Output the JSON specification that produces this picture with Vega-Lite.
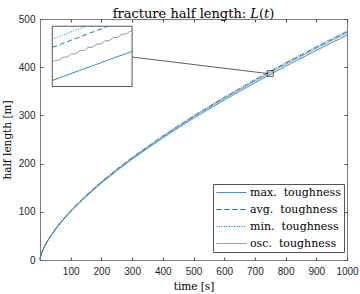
{
  "$schema": "https://vega.github.io/schema/vega-lite/v6.json",
  "width": 307,
  "height": 241,
  "autosize": {"type": "none"},
  "padding": {"left": 40, "top": 19, "right": 13, "bottom": 34},
  "background": "white",
  "title": {"text": "fracture half length: 𝐿(𝑡)", "font": "DejaVu Serif", "fontSize": 13, "fontWeight": "normal", "color": "black", "offset": -7, "anchor": "middle"},
  "config": {
    "view": {"stroke": "#7a7a7a", "strokeWidth": 1},
    "axis": {"domain": false, "grid": false, "tickSize": -3, "tickColor": "#555", "labelOverlap": false, "labelFlush": false, "format": "d", "labelFont": "Liberation Sans", "labelFontSize": 10, "labelColor": "#262626", "titleFont": "DejaVu Serif", "titleFontWeight": "normal", "titleFontSize": 10.5, "titleColor": "black"},
    "legend": {"strokeColor": "#555", "fillColor": "white", "padding": 3, "symbolType": "M-1,0H5", "symbolSize": 100, "symbolStrokeWidth": 1, "labelFont": "DejaVu Serif", "labelFontSize": 11, "labelColor": "black", "labelOffset": 23, "rowPadding": 5}
  },
  "datasets": {
    "main": [
      {"s":"max","t":0,"L":0},{"s":"max","t":1,"L":4.67},{"s":"max","t":2,"L":7.40},{"s":"max","t":5,"L":13.64},{"s":"max","t":10,"L":21.65},{"s":"max","t":20,"L":34.37},{"s":"max","t":30,"L":45.04},{"s":"max","t":50,"L":63.31},{"s":"max","t":75,"L":82.96},{"s":"max","t":100,"L":100.5},{"s":"max","t":150,"L":131.7},{"s":"max","t":200,"L":159.5},{"s":"max","t":250,"L":185.1},{"s":"max","t":300,"L":209.1},{"s":"max","t":400,"L":253.3},{"s":"max","t":500,"L":293.9},{"s":"max","t":600,"L":331.9},{"s":"max","t":700,"L":367.8},{"s":"max","t":750,"L":385.1},{"s":"max","t":800,"L":402.0},{"s":"max","t":900,"L":434.9},{"s":"max","t":1000,"L":466.5},
      {"s":"avg","t":0,"L":0},{"s":"avg","t":1,"L":4.74},{"s":"avg","t":2,"L":7.51},{"s":"avg","t":5,"L":13.85},{"s":"avg","t":10,"L":21.98},{"s":"avg","t":20,"L":34.89},{"s":"avg","t":30,"L":45.72},{"s":"avg","t":50,"L":64.26},{"s":"avg","t":75,"L":84.21},{"s":"avg","t":100,"L":102.0},{"s":"avg","t":150,"L":133.7},{"s":"avg","t":200,"L":161.9},{"s":"avg","t":250,"L":187.9},{"s":"avg","t":300,"L":212.2},{"s":"avg","t":400,"L":257.1},{"s":"avg","t":500,"L":298.3},{"s":"avg","t":600,"L":336.8},{"s":"avg","t":700,"L":373.3},{"s":"avg","t":750,"L":390.9},{"s":"avg","t":800,"L":408.1},{"s":"avg","t":900,"L":441.4},{"s":"avg","t":1000,"L":473.5},
      {"s":"min","t":0,"L":0},{"s":"min","t":1,"L":4.75},{"s":"min","t":2,"L":7.54},{"s":"min","t":5,"L":13.89},{"s":"min","t":10,"L":22.06},{"s":"min","t":20,"L":35.01},{"s":"min","t":30,"L":45.88},{"s":"min","t":50,"L":64.49},{"s":"min","t":75,"L":84.51},{"s":"min","t":100,"L":102.4},{"s":"min","t":150,"L":134.2},{"s":"min","t":200,"L":162.5},{"s":"min","t":250,"L":188.6},{"s":"min","t":300,"L":213.0},{"s":"min","t":400,"L":258.0},{"s":"min","t":500,"L":299.4},{"s":"min","t":600,"L":338.0},{"s":"min","t":700,"L":374.6},{"s":"min","t":750,"L":392.3},{"s":"min","t":800,"L":409.5},{"s":"min","t":900,"L":443.0},{"s":"min","t":1000,"L":475.2},
      {"s":"osc","t":0,"L":0},{"s":"osc","t":1,"L":4.71},{"s":"osc","t":2,"L":7.48},{"s":"osc","t":5,"L":13.78},{"s":"osc","t":10,"L":21.87},{"s":"osc","t":20,"L":34.71},{"s":"osc","t":30,"L":45.49},{"s":"osc","t":50,"L":63.94},{"s":"osc","t":75,"L":83.78},{"s":"osc","t":100,"L":101.5},{"s":"osc","t":150,"L":133.0},{"s":"osc","t":200,"L":161.1},{"s":"osc","t":250,"L":187.0},{"s":"osc","t":300,"L":211.1},{"s":"osc","t":400,"L":255.8},{"s":"osc","t":500,"L":296.8},{"s":"osc","t":600,"L":335.1},{"s":"osc","t":700,"L":371.4},{"s":"osc","t":750,"L":388.9},{"s":"osc","t":800,"L":406.0},{"s":"osc","t":900,"L":439.1},{"s":"osc","t":1000,"L":471.1}
    ],
    "inset": [
      {"s":"max","t":740,"L":382.2},{"s":"max","t":760,"L":388.0},
      {"s":"avg","t":740,"L":388.8},{"s":"avg","t":754,"L":393.0},
      {"s":"min","t":740,"L":390.4},{"s":"min","t":748.4,"L":393.0},
      {"s":"osc","t":740.0,"L":385.80},{"s":"osc","t":740.7,"L":386.20},{"s":"osc","t":741.4,"L":386.20},{"s":"osc","t":742.1,"L":386.45},{"s":"osc","t":742.8,"L":386.85},{"s":"osc","t":743.5,"L":386.85},{"s":"osc","t":744.2,"L":387.10},{"s":"osc","t":744.9,"L":387.50},{"s":"osc","t":745.6,"L":387.50},{"s":"osc","t":746.3,"L":387.75},{"s":"osc","t":747.0,"L":388.15},{"s":"osc","t":747.7,"L":388.15},{"s":"osc","t":748.4,"L":388.40},{"s":"osc","t":749.1,"L":388.80},{"s":"osc","t":749.8,"L":388.80},{"s":"osc","t":750.5,"L":389.05},{"s":"osc","t":751.2,"L":389.45},{"s":"osc","t":751.9,"L":389.45},{"s":"osc","t":752.6,"L":389.70},{"s":"osc","t":753.3,"L":390.10},{"s":"osc","t":754.0,"L":390.10},{"s":"osc","t":754.7,"L":390.35},{"s":"osc","t":755.4,"L":390.75},{"s":"osc","t":756.1,"L":390.75},{"s":"osc","t":756.8,"L":391.00},{"s":"osc","t":757.5,"L":391.40},{"s":"osc","t":758.2,"L":391.40},{"s":"osc","t":758.9,"L":391.65},{"s":"osc","t":759.6,"L":392.05},{"s":"osc","t":760.0,"L":392.05}
    ],
    "box": [{"t1": 740, "t2": 760, "L1": 381, "L2": 393}],
    "conn": [{"t1": 300, "t2": 740, "L1": 421, "L2": 387}]
  },
  "layer": [
    {
      "data": {"name": "main"},
      "mark": {"type": "line", "strokeWidth": 0.9},
      "encoding": {
        "x": {"field": "t", "type": "quantitative", "scale": {"domain": [0, 1000], "nice": false, "zero": false}, "axis": {"values": [100,200,300,400,500,600,700,800,900,1000], "title": "time [s]", "labelPadding": 9, "titlePadding": 5}},
        "y": {"field": "L", "type": "quantitative", "scale": {"domain": [0, 500], "nice": false, "zero": false}, "axis": {"values": [0,100,200,300,400,500], "title": "half length [m]", "labelPadding": 8, "titlePadding": 6}},
        "color": {"field": "s", "type": "nominal", "scale": {"domain": ["max","avg","min","osc"], "range": ["#0072BD","#0072BD","#0072BD","#808080"]}, "legend": {"title": null, "orient": "none", "legendX": 173, "legendY": 165, "labelExpr": "datum.label + '.\u00a0 toughness'"}},
        "strokeDash": {"field": "s", "type": "nominal", "scale": {"domain": ["max","avg","min","osc"], "range": [[1,0],[5,3],[1,1.5],[1,0]]}, "legend": {"title": null, "orient": "none", "legendX": 173, "legendY": 165, "labelExpr": "datum.label + '.\u00a0 toughness'"}}
      }
    },
    {
      "data": {"name": "box"},
      "mark": {"type": "rect", "fillOpacity": 0, "stroke": "#333", "strokeWidth": 0.8},
      "encoding": {
        "x": {"field": "t1", "type": "quantitative", "scale": {"domain": [0, 1000], "nice": false, "zero": false}, "axis": {"orient": "top", "values": [100,200,300,400,500,600,700,800,900,1000], "labels": false, "title": null}},
        "x2": {"field": "t2"},
        "y": {"field": "L1", "type": "quantitative", "scale": {"domain": [0, 500], "nice": false, "zero": false}, "axis": {"orient": "right", "values": [0,100,200,300,400,500], "labels": false, "title": null}},
        "y2": {"field": "L2"}
      }
    },
    {
      "data": {"name": "conn"},
      "mark": {"type": "rule", "stroke": "#333", "strokeWidth": 0.8},
      "encoding": {
        "x": {"field": "t1", "type": "quantitative", "scale": {"domain": [0, 1000], "nice": false, "zero": false}, "axis": null},
        "x2": {"field": "t2"},
        "y": {"field": "L1", "type": "quantitative", "scale": {"domain": [0, 500], "nice": false, "zero": false}, "axis": null},
        "y2": {"field": "L2"}
      }
    },
    {
      "data": {"name": "box"},
      "mark": {"type": "rect", "fill": "white", "stroke": "#555", "strokeWidth": 1},
      "encoding": {
        "x": {"field": "t1", "type": "quantitative", "scale": {"domain": [736.923, 813.846], "nice": false, "zero": false}, "axis": null},
        "x2": {"field": "t2"},
        "y": {"field": "L1", "type": "quantitative", "scale": {"domain": [346.44, 394.44], "nice": false, "zero": false}, "axis": null},
        "y2": {"field": "L2"}
      }
    },
    {
      "data": {"name": "inset"},
      "mark": {"type": "line", "strokeWidth": 0.9, "interpolate": "monotone"},
      "encoding": {
        "x": {"field": "t", "type": "quantitative", "scale": {"domain": [736.923, 813.846], "nice": false, "zero": false}, "axis": null},
        "y": {"field": "L", "type": "quantitative", "scale": {"domain": [346.44, 394.44], "nice": false, "zero": false}, "axis": null},
        "color": {"field": "s", "type": "nominal", "scale": {"domain": ["max","avg","min","osc"], "range": ["#0072BD","#0072BD","#0072BD","#808080"]}, "legend": {"title": null, "orient": "none", "legendX": 173, "legendY": 165, "labelExpr": "datum.label + '.\u00a0 toughness'"}},
        "strokeDash": {"field": "s", "type": "nominal", "scale": {"domain": ["max","avg","min","osc"], "range": [[1,0],[5,3],[1,1.5],[1,0]]}, "legend": {"title": null, "orient": "none", "legendX": 173, "legendY": 165, "labelExpr": "datum.label + '.\u00a0 toughness'"}}
      }
    }
  ],
  "resolve": {"scale": {"x": "independent", "y": "independent"}}
}
